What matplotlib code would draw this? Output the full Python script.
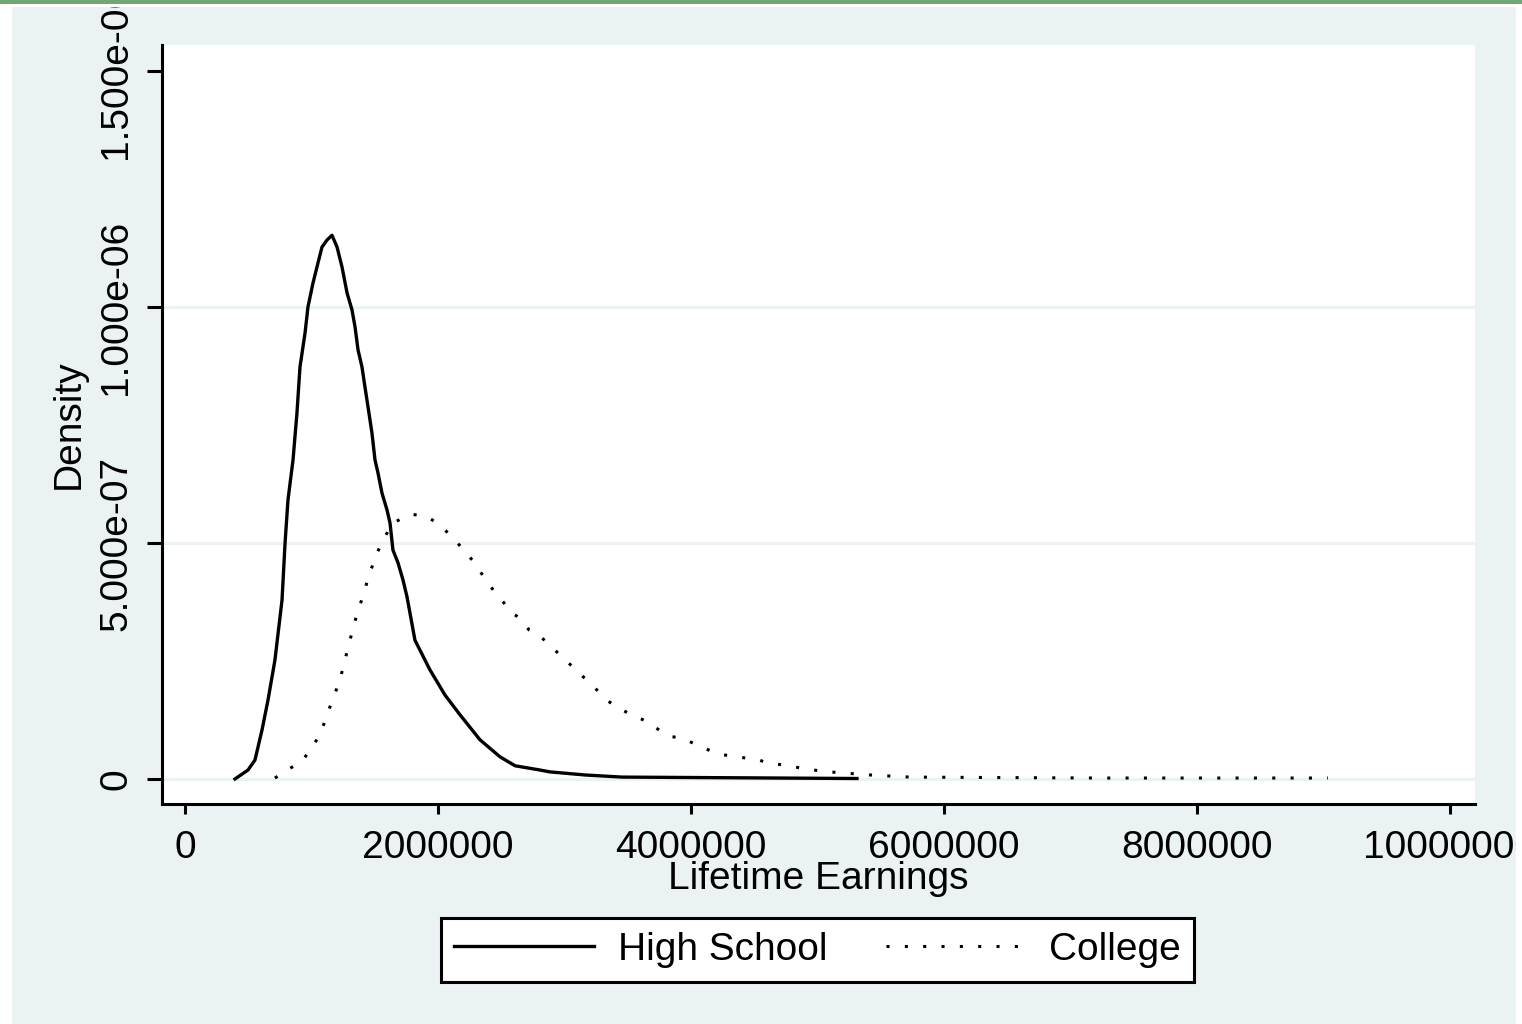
import numpy as np
import matplotlib
matplotlib.use('Agg')
import matplotlib.pyplot as plt
from matplotlib.patches import Rectangle

# kernel density curves
hs_earn = [0.395, 0.498, 0.553, 0.609, 0.656, 0.711, 0.767, 0.791, 0.814, 0.854,
           0.885, 0.909, 0.949, 0.972, 1.012, 1.051, 1.083, 1.123, 1.162, 1.202,
           1.241, 1.281, 1.320, 1.344, 1.368, 1.399, 1.423, 1.447, 1.478, 1.502,
           1.526, 1.557, 1.597, 1.621, 1.644, 1.684, 1.723, 1.755, 1.818, 1.937,
           2.055, 2.174, 2.332, 2.490, 2.609, 2.806, 2.885, 3.162, 3.455, 5.312]
hs_dens = [0.000, 0.019, 0.040, 0.104, 0.167, 0.252, 0.379, 0.500, 0.591, 0.676,
           0.775, 0.873, 0.945, 1.000, 1.051, 1.093, 1.127, 1.142, 1.152, 1.127,
           1.085, 1.030, 0.994, 0.958, 0.909, 0.873, 0.830, 0.788, 0.733, 0.676,
           0.648, 0.606, 0.570, 0.542, 0.485, 0.458, 0.422, 0.386, 0.294, 0.231,
           0.178, 0.136, 0.083, 0.047, 0.028, 0.019, 0.015, 0.0085, 0.004, 0.001]

col_earn = [0.711, 0.933, 1.067, 1.146, 1.225, 1.304, 1.368, 1.423, 1.447, 1.478,
            1.518, 1.636, 1.794, 1.921, 2.024, 2.142, 2.221, 2.277, 2.324, 2.443,
            2.522, 2.569, 2.648, 2.719, 2.798, 2.972, 3.099, 3.225, 3.344, 3.447,
            3.526, 3.644, 3.747, 3.826, 3.945, 4.095, 4.221, 4.348, 4.522, 4.601,
            4.783, 4.901, 5.099, 5.415, 5.731, 6.443, 7.233, 8.024, 9.036]
col_dens = [0.002, 0.040, 0.093, 0.153, 0.210, 0.294, 0.358, 0.398, 0.430, 0.449,
            0.479, 0.542, 0.561, 0.555, 0.536, 0.504, 0.479, 0.462, 0.443, 0.398,
            0.373, 0.354, 0.341, 0.316, 0.305, 0.261, 0.229, 0.197, 0.165, 0.148,
            0.136, 0.123, 0.104, 0.091, 0.085, 0.066, 0.053, 0.047, 0.042, 0.034,
            0.028, 0.021, 0.015, 0.0085, 0.004, 0.003, 0.002, 0.002, 0.002]

x_ticks = [0, 2000000, 4000000, 6000000, 8000000, 10000000]
y_ticks = [0, 5e-07, 1e-06, 1.5e-06]
y_labels = ['0', '5.000e-07', '1.000e-06', '1.500e-06']
grid_at = [0, 5e-07, 1e-06]
series = ['High School', 'College']

W, H = 1522, 1024
BG = '#eaf2f3'
GREEN = '#73a575'


def frac(x0, y0, x1, y1):
    # pixel box (from top-left) -> figure fraction rectangle
    return (x0 / W, 1 - y1 / H), (x1 - x0) / W, (y1 - y0) / H


def main():
    plt.rcParams['font.family'] = ['Liberation Sans', 'DejaVu Sans']
    fig = plt.figure(figsize=(W / 100, H / 100), dpi=100)
    fig.patch.set_facecolor('white')

    xy, w, h = frac(12, 7, 1516, 1024)
    fig.add_artist(Rectangle(xy, w, h, transform=fig.transFigure,
                             facecolor=BG, edgecolor='none', zorder=-1))

    ax = fig.add_axes([162 / W, 1 - 804 / H, 1313 / W, 759 / H])
    ax.set_facecolor('white')

    for g in grid_at:
        ax.axhline(g, color=BG, lw=2.2, zorder=1)

    earn_hs = np.array(hs_earn) * 1e6
    earn_col = np.array(col_earn) * 1e6
    ax.plot(earn_hs, np.array(hs_dens) * 1e-6, color='black', lw=2.4,
            zorder=3, label=series[0])
    ax.plot(earn_col, np.array(col_dens) * 1e-6, color='black', lw=2.2,
            linestyle=(0, (1, 5)), dash_capstyle='butt', zorder=3,
            label=series[1])

    ax.set_xlim(-181818, 10.198e6)
    ax.set_ylim(-5.30e-08, 1.5551e-06)

    for s in ['top', 'right']:
        ax.spines[s].set_visible(False)
    for s in ['left', 'bottom']:
        ax.spines[s].set_linewidth(2.2)
        ax.spines[s].set_color('black')

    ax.set_xticks(x_ticks)
    ax.set_xticklabels([str(v) for v in x_ticks])
    ax.set_yticks(y_ticks)
    ax.set_yticklabels(y_labels)
    ax.tick_params(axis='x', length=7, width=2.2, pad=12, labelsize=28)
    ax.tick_params(axis='y', length=11, width=2.2, pad=9, labelsize=28,
                   labelrotation=90)
    plt.setp(ax.get_yticklabels(), va='center')

    ax.set_xlabel('Lifetime Earnings', fontsize=28)
    ax.xaxis.set_label_coords(0.5, -0.075)
    ax.set_ylabel('Density', fontsize=28)
    ax.yaxis.set_label_coords(-0.057, 0.5)

    leg = fig.legend(loc='center', bbox_to_anchor=(817.5 / W, 1 - 950 / H),
                     ncol=2, fontsize=28, frameon=True, fancybox=False,
                     handlelength=3.6, handletextpad=0.6, columnspacing=1.5,
                     borderpad=0.35, borderaxespad=0)
    leg.get_frame().set_edgecolor('black')
    leg.get_frame().set_linewidth(2.2)
    leg.get_frame().set_facecolor('white')
    leg.get_frame().set_alpha(1)

    # outer strips drawn over everything, clipping labels like the original
    for box, col in [((0, 0, 12, H), 'white'), ((1516, 0, W, H), 'white'),
                     ((0, 4, W, 7), 'white'), ((0, 0, W, 4), GREEN)]:
        xy, w, h = frac(*box)
        fig.add_artist(Rectangle(xy, w, h, transform=fig.transFigure,
                                 facecolor=col, edgecolor='none', zorder=10))

    fig.savefig('out.png', dpi=100)
    plt.close(fig)


if __name__ == '__main__':
    main()
